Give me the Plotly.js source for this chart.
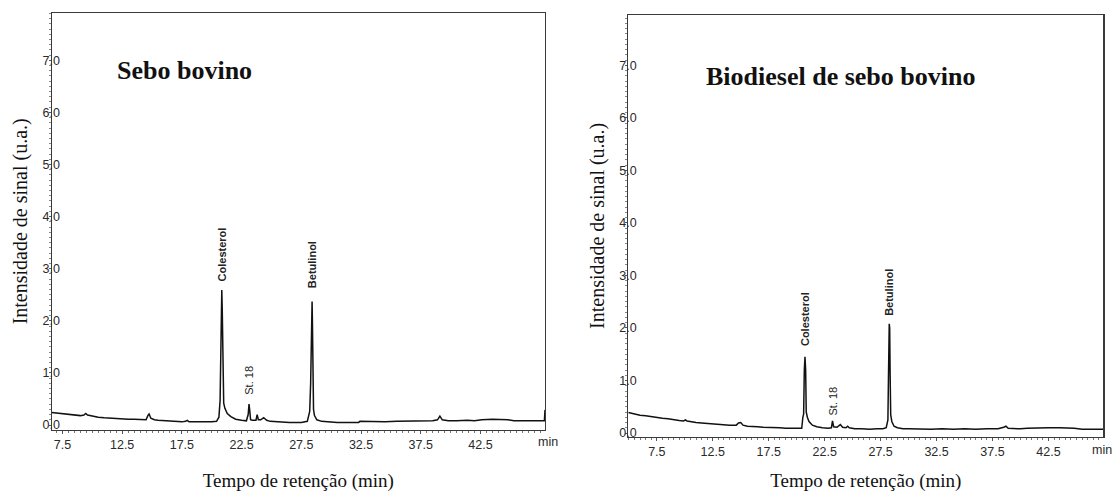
<!DOCTYPE html>
<html>
<head>
<meta charset="utf-8">
<script src="https://cdn.plot.ly/plotly-3.0.1.min.js"></script>
<style>html,body{margin:0;padding:0;background:#fff;}#chart{width:1115px;height:492px;}</style>
</head>
<body>
<div id="chart"></div>
<script>
// ---- Data ----
const xTickVals = [7.5, 12.5, 17.5, 22.5, 27.5, 32.5, 37.5, 42.5];
const xTickText = ["7.5", "12.5", "17.5", "22.5", "27.5", "32.5", "37.5", "42.5"];
const yTickVals = [0, 1, 2, 3, 4, 5, 6, 7];
const yTickText = ["0.0", "1.0", "2.0", "3.0", "4.0", "5.0", "6.0", "7.0"];

// Sebo bovino (left)
const seboTime = [6.6, 7.0, 7.5, 8.0, 8.5, 9.0, 9.3, 9.45, 9.6, 10.0, 10.5, 11.0, 11.5, 12.0, 12.5, 13.0, 13.5, 14.0, 14.5, 14.65, 14.75, 14.9, 15.2, 15.5, 16.0, 16.5, 17.0, 17.5, 17.8, 17.95, 18.1, 18.5, 19.0, 19.5, 20.0, 20.4, 20.6, 20.7, 20.76, 20.8, 20.84, 20.88, 20.92, 20.96, 21.0, 21.1, 21.3, 21.6, 22.0, 22.5, 22.9, 23.05, 23.12, 23.18, 23.25, 23.4, 23.7, 23.8, 23.9, 24.1, 24.35, 24.45, 24.6, 24.9, 25.5, 26.0, 26.5, 27.0, 27.5, 28.0, 28.2, 28.28, 28.33, 28.37, 28.4, 28.43, 28.47, 28.52, 28.6, 28.8, 29.2, 29.8, 30.5, 31.5, 32.3, 32.4, 33.5, 34.5, 35.5, 36.5, 37.5, 38.5, 38.9, 39.1, 39.3, 39.8, 40.5, 41.4, 42.0, 42.6, 43.5, 44.8, 45.3, 46.0, 47.0, 47.7, 47.85, 47.9];
const seboSignal = [0.24, 0.23, 0.21, 0.20, 0.19, 0.18, 0.19, 0.22, 0.19, 0.17, 0.15, 0.14, 0.13, 0.12, 0.12, 0.11, 0.11, 0.10, 0.10, 0.18, 0.21, 0.13, 0.10, 0.09, 0.08, 0.07, 0.06, 0.06, 0.07, 0.09, 0.06, 0.06, 0.06, 0.05, 0.06, 0.07, 0.15, 0.48, 1.40, 2.20, 2.59, 2.20, 1.40, 0.55, 0.42, 0.32, 0.22, 0.16, 0.11, 0.09, 0.08, 0.20, 0.40, 0.28, 0.10, 0.09, 0.09, 0.20, 0.10, 0.10, 0.14, 0.12, 0.09, 0.07, 0.06, 0.05, 0.05, 0.05, 0.05, 0.07, 0.26, 0.80, 1.90, 2.20, 2.37, 1.95, 0.90, 0.30, 0.18, 0.10, 0.07, 0.06, 0.05, 0.05, 0.05, 0.07, 0.06, 0.06, 0.07, 0.07, 0.07, 0.08, 0.10, 0.17, 0.10, 0.08, 0.08, 0.09, 0.08, 0.10, 0.11, 0.10, 0.08, 0.08, 0.08, 0.08, 0.08, 0.29];

// Biodiesel de sebo bovino (right)
const bioTime = [4.95, 5.5, 6.0, 6.5, 7.0, 7.5, 8.0, 8.5, 9.0, 9.5, 9.9, 10.05, 10.2, 10.6, 11.0, 11.5, 12.0, 12.5, 13.0, 13.5, 14.0, 14.6, 14.8, 15.0, 15.2, 15.6, 16.0, 16.5, 17.0, 17.5, 18.0, 18.5, 19.0, 19.5, 20.0, 20.45, 20.55, 20.62, 20.68, 20.74, 20.8, 20.85, 20.95, 21.1, 21.4, 21.8, 22.3, 22.8, 23.1, 23.2, 23.3, 23.6, 23.9, 24.1, 24.4, 24.55, 24.7, 25.2, 25.8, 26.5, 27.2, 27.7, 28.0, 28.15, 28.2, 28.25, 28.27, 28.31, 28.35, 28.4, 28.5, 28.7, 29.0, 29.5, 30.0, 31.0, 32.0, 33.0, 34.0, 35.0, 36.0, 37.0, 38.0, 38.5, 38.7, 38.9, 39.5, 40.0, 40.6, 41.5, 42.5, 43.5, 44.8, 45.5, 46.5, 47.4];
const bioSignal = [0.39, 0.36, 0.34, 0.33, 0.31, 0.30, 0.28, 0.27, 0.25, 0.24, 0.23, 0.25, 0.23, 0.21, 0.20, 0.19, 0.18, 0.17, 0.17, 0.16, 0.15, 0.15, 0.19, 0.20, 0.15, 0.13, 0.12, 0.12, 0.11, 0.11, 0.10, 0.10, 0.09, 0.09, 0.09, 0.09, 0.30, 0.36, 1.20, 1.45, 1.20, 0.40, 0.30, 0.22, 0.15, 0.12, 0.10, 0.09, 0.10, 0.23, 0.12, 0.11, 0.16, 0.11, 0.10, 0.13, 0.10, 0.08, 0.08, 0.07, 0.08, 0.08, 0.10, 0.25, 1.05, 1.80, 2.08, 2.00, 1.10, 0.35, 0.22, 0.13, 0.10, 0.08, 0.08, 0.07, 0.07, 0.08, 0.07, 0.08, 0.07, 0.08, 0.08, 0.11, 0.13, 0.09, 0.08, 0.08, 0.09, 0.10, 0.10, 0.10, 0.09, 0.07, 0.07, 0.07];

// Peak labels: [text, time, label-centre intensity, bold]
const seboPeaks = [["Colesterol", 20.84, 3.27, true], ["St. 18", 23.12, 0.85, false], ["Betulinol", 28.4, 3.07, true]];
const bioPeaks = [["Colesterol", 20.74, 2.17, true], ["St. 18", 23.2, 0.61, false], ["Betulinol", 28.3, 2.68, true]];

const panelTitles = ["Sebo bovino", "Biodiesel de sebo bovino"];
const xTitle = "Tempo de retenção (min)";
const yTitle = "Intensidade de sinal (u.a.)";

// ---- Styling / layout ----
const SANS = "Liberation Sans, Arial, sans-serif";
const SERIF = "Liberation Serif, Times New Roman, serif";
const W = 1115, H = 492;

function xAxis(domain, range) {
  return {
    domain: domain, range: range, tickmode: "array", tickvals: xTickVals, ticktext: xTickText,
    showline: true, mirror: true, linecolor: "#3a3a3a", linewidth: 1.2, showgrid: false, zeroline: false,
    ticks: "outside", ticklen: 3, tickcolor: "#555", tickwidth: 1,
    minor: {dtick: 0.5, ticks: "outside", ticklen: 2, tickcolor: "#777", tickwidth: 1, showgrid: false},
    tickfont: {family: SANS, size: 12.5, color: "#2a2a2a"},
    title: {text: xTitle, font: {family: SERIF, size: 19, color: "#111"}, standoff: 24},
    fixedrange: true
  };
}
function yAxis(domain, range, anchor) {
  return {
    domain: domain, range: range, anchor: anchor, tickmode: "array", tickvals: yTickVals, ticktext: yTickText,
    showline: true, mirror: true, linecolor: "#3a3a3a", linewidth: 1.2, showgrid: false, zeroline: false,
    ticks: "outside", ticklen: 2, tickcolor: "#555",
    minor: {dtick: 0.1, ticks: "outside", ticklen: 2, tickcolor: "#888", tickwidth: 1, showgrid: false},
    tickfont: {family: SANS, size: 12.5, color: "#2a2a2a"},
    ticklabelstandoff: -14,
    title: {text: yTitle, font: {family: SERIF, size: 20, color: "#111"}, standoff: 9},
    fixedrange: true
  };
}

const traces = [
  {x: seboTime, y: seboSignal, xaxis: "x", yaxis: "y", type: "scatter", mode: "lines",
   line: {color: "#111", width: 1.5}, hoverinfo: "skip"},
  {x: bioTime, y: bioSignal, xaxis: "x2", yaxis: "y2", type: "scatter", mode: "lines",
   line: {color: "#111", width: 1.5}, hoverinfo: "skip"}
];

function peakAnn(p, xref, yref) {
  return {text: p[3] ? "<b>" + p[0] + "</b>" : p[0], x: p[1], y: p[2], xref: xref, yref: yref,
    textangle: -90, showarrow: false, xanchor: "center", yanchor: "middle",
    font: {family: SANS, size: 11, color: "#222"}};
}

const annotations = [];
seboPeaks.forEach(p => annotations.push(peakAnn(p, "x", "y")));
bioPeaks.forEach(p => annotations.push(peakAnn(p, "x2", "y2")));
annotations.push({text: "<b>" + panelTitles[0] + "</b>", x: 184 / W, y: 1 - 71 / H, xref: "paper", yref: "paper",
  showarrow: false, xanchor: "center", yanchor: "middle", font: {family: SERIF, size: 26, color: "#111"}});
annotations.push({text: "<b>" + panelTitles[1] + "</b>", x: 840 / W, y: 1 - 76 / H, xref: "paper", yref: "paper",
  showarrow: false, xanchor: "center", yanchor: "middle", font: {family: SERIF, size: 26, color: "#111"}});
annotations.push({text: "min", x: 548 / W, y: 1 - 442 / H, xref: "paper", yref: "paper",
  showarrow: false, xanchor: "center", yanchor: "middle", font: {family: SANS, size: 12.5, color: "#2a2a2a"}});
annotations.push({text: "min", x: 1114 / W, y: 1 - 450 / H, xref: "paper", yref: "paper",
  showarrow: false, xanchor: "right", yanchor: "middle", font: {family: SANS, size: 12.5, color: "#2a2a2a"}});

const layout = {
  width: W, height: H, margin: {l: 0, r: 0, t: 0, b: 0},
  paper_bgcolor: "#fff", plot_bgcolor: "#fff", showlegend: false,
  xaxis: xAxis([51.7 / W, 545 / W], [6.6, 47.9]),
  yaxis: yAxis([1 - 430 / H, 1 - 12.7 / H], [-0.096, 7.914], "x"),
  xaxis2: xAxis([628.3 / W, 1103.3 / W], [4.95, 47.4]),
  yaxis2: yAxis([1 - 436.7 / H, 1 - 15 / H], [-0.07, 7.96], "x2"),
  annotations: annotations
};
layout.xaxis.anchor = "y";
layout.xaxis2.anchor = "y2";

Plotly.newPlot("chart", traces, layout, {displayModeBar: false, staticPlot: true});
</script>
</body>
</html>
